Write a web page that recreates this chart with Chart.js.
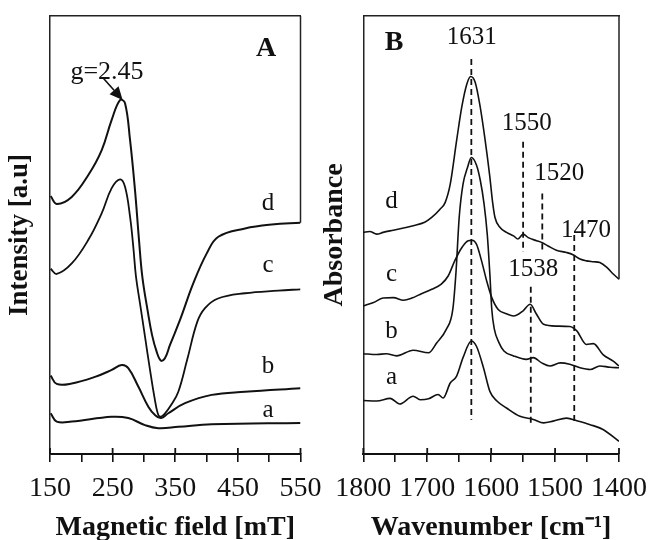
<!DOCTYPE html>
<html><head><meta charset="utf-8">
<script src="https://cdn.jsdelivr.net/npm/chart.js@4.4.1/dist/chart.umd.min.js"></script>
<style>
html,body{margin:0;padding:0;background:#fff;overflow:hidden;}
#wrapA{position:absolute;left:0;top:0;width:330px;height:540px;}
#wrapB{position:absolute;left:315px;top:0;width:336px;height:540px;}
</style></head><body>
<div id="wrapA"><canvas id="chartA"></canvas></div>
<div id="wrapB"><canvas id="chartB"></canvas></div>
<script>
// ---------- Panel A : EPR spectra (Magnetic field [mT] vs Intensity [a.u]) ----------
const fieldD = [151,160.7,184.7,211.2,232.6,248.5,261.8,269.8,277.8,285.7,292.1,297.4,305.7,312.9,320.4,327.3,333.7,341.6,357.6,378.9,400.3,418.8,461.4,504.1,550];
const intD   = [58.9,57.1,58.7,63.7,69.4,76.3,80.8,80.1,71.7,60.3,48.9,40.5,32.9,27.2,23.3,21.3,21.9,24.9,30.6,39.0,45.8,49.6,51.5,52.4,52.8];
const fieldC = [151,160.7,184.7,211.2,232.6,248.5,261.8,269.8,277.8,283.0,287.3,293.7,301.7,309.7,316.6,322.0,325.7,333.7,344.4,354.9,369,385,397.5,418.3,461.4,514.6,550];
const intC   = [42.3,41.1,43.5,48.9,55.0,60.7,62.7,61.0,54.2,47.3,40.5,34.4,26.8,19.2,13.1,9.3,8.5,9.3,11.4,14.2,21.5,30.1,33.3,35.5,36.7,37.3,37.6];
const fieldB = [151,160.7,184.7,221.9,248.5,264.5,275.0,291.0,307.0,317.7,327.3,338.9,365.6,408.2,461.4,550];
const intB   = [17.9,16.0,16.1,17.6,19.2,20.3,19.6,15.4,10.8,8.9,8.2,9.3,11.6,13.5,14.2,15.0];
const fieldA = [151,160.7,184.7,248.5,275.0,301.7,322.9,354.9,408.2,550];
const intA   = [9.3,7.4,7.4,8.5,8.2,6.6,5.9,6.2,6.8,7.1];
const fieldTicksMajor = [150,250,350,450,550];
const seriesNames = ['a','b','c','d'];
const nameFieldA = [498,498,498,498];
const nameIntA   = [10.0,19.9,43.0,57.3];
const gLabel = 'g=2.45';
const gLabelPos = [241,87.2];
const gArrowFrom = [235.2,85.8];
const gArrowTo = [266,80.8];

// ---------- Panel B : IR spectra (Wavenumber [cm-1] vs Absorbance) ----------
const wnD  = [1800,1790,1779,1769,1753,1737,1722,1704,1693,1680,1672,1664,1654,1646,1638,1632,1625,1618,1610,1602,1598,1594,1586,1576,1565,1558,1550,1542,1529,1521,1511,1498,1482,1472,1461,1451,1440,1430,1419,1409,1400];
const absD = [50.6,50.8,50.2,50.6,51.1,51.6,52.1,52.9,54.0,55.9,57.4,61.6,71.6,79.2,84.5,86.2,84.9,80.0,72.3,63.2,57.8,54.0,51.7,50.6,49.8,49.1,50.2,49.4,48.7,48.3,47.5,46.5,46.0,45.5,44.5,44.1,43.9,43.7,42.6,41.1,39.9];
const wnC  = [1800,1784,1769,1753,1737,1724,1709,1693,1678,1667,1657,1646,1636,1630,1623,1615,1607,1599,1589,1576,1565,1550,1539,1529,1518,1498,1477,1466,1451,1440,1425,1409,1400];
const absC = [33.8,34.6,35.6,35.7,35.1,35.6,36.6,37.6,38.8,40.7,44.1,47.1,48.7,48.8,47.9,44.1,39.5,35.7,33.0,32.0,31.5,32.7,34.2,31.9,29.6,29.2,29.1,28.1,25.0,25.2,22.7,21.2,20.1];
const wnB  = [1800,1779,1764,1748,1722,1698,1685,1670,1660,1655,1650,1644,1637,1631,1623,1617,1611,1606,1602,1599,1595,1588,1580,1565,1545,1534,1521,1508,1492,1477,1461,1445,1430,1414,1400];
const absB = [22.9,22.7,22.9,22.4,23.7,23.1,25.4,28.5,33.0,41.5,54.0,61.6,65.4,67.7,66.0,62.5,57.0,50.0,41.0,33.0,28.5,25.5,23.5,22.4,21.6,22.0,20.8,20.1,20.8,20.5,19.7,19.3,20.1,19.8,19.7];
const wnA  = [1800,1779,1758,1743,1722,1711,1698,1683,1675,1664,1654,1644,1631,1623,1612,1602,1591,1576,1555,1534,1518,1503,1482,1466,1445,1425,1400];
const absA = [12.2,12.1,12.7,11.4,13.2,12.4,12.6,13.6,12.8,16.2,17.8,22.0,25.8,24.6,19.7,14.3,12.1,10.5,8.6,7.9,7.1,7.5,8.2,7.6,6.7,5.6,2.9];
const wnTicksMajor = [1800,1700,1600,1500,1400];
const nameWn  = [1756,1756,1756,1756];
const nameAbs = [17.4,27.9,40.9,57.6];
const markerWn     = [1631,1550,1520,1538,1470];
const markerTop    = [90.2,71.3,59.5,38.2,50.0];
const markerBottom = [7.8,46.1,46.1,6.6,6.6];
const markerText   = ['1631','1550','1520','1538','1470'];
const markerTextWn = [1630.4,1544.3,1493.5,1534,1451.8];
const markerTextAbs= [95.1,75.5,64.0,42.2,51.1];

// ---------- helpers ----------
const FONT = 'Liberation Serif';
const INK = '#111';
const pts = (xs, ys) => xs.map((x, i) => ({x, y: ys[i]}));

function curve(xs, ys, w, smooth) {
  const d = { data: pts(xs, ys), borderColor: INK, borderWidth: w, pointRadius: 0, fill: false };
  if (smooth) { d.tension = 0.4; } else { d.cubicInterpolationMode = 'monotone'; }
  return d;
}

function panelPlugin(cfg) {
  return {
    id: 'panel' + cfg.name,
    afterDatasetsDraw(chart) {
      const {ctx, chartArea: ca, scales} = chart;
      const xs = scales.x, ys = scales.y;
      ctx.save();
      // partial right frame down to the end of the top curve
      const meta = chart.getDatasetMeta(cfg.frameSeries);
      const last = meta.data[meta.data.length - 1];
      ctx.strokeStyle = '#222'; ctx.lineWidth = 1.5;
      ctx.beginPath(); ctx.moveTo(ca.right, ca.top); ctx.lineTo(ca.right, last.y); ctx.stroke();
      // inner part of major ticks
      ctx.strokeStyle = INK; ctx.lineWidth = 1.8;
      cfg.majorTicks.forEach(v => {
        const px = xs.getPixelForValue(v);
        ctx.beginPath(); ctx.moveTo(px, ca.bottom - 6); ctx.lineTo(px, ca.bottom); ctx.stroke();
      });
      // texts
      ctx.fillStyle = INK; ctx.textAlign = 'center'; ctx.textBaseline = 'middle';
      cfg.texts.forEach(t => {
        ctx.font = t.font;
        ctx.fillText(t.text, xs.getPixelForValue(t.x), ys.getPixelForValue(t.y));
      });
      // arrow
      if (cfg.arrow) {
        const x0 = xs.getPixelForValue(cfg.arrow.from[0]), y0 = ys.getPixelForValue(cfg.arrow.from[1]);
        const x1 = xs.getPixelForValue(cfg.arrow.to[0]),   y1 = ys.getPixelForValue(cfg.arrow.to[1]);
        const ang = Math.atan2(y1 - y0, x1 - x0);
        const hl = 13, hw = 6;
        const bx = x1 - hl * Math.cos(ang), by = y1 - hl * Math.sin(ang);
        ctx.strokeStyle = INK; ctx.lineWidth = 1.6;
        ctx.beginPath(); ctx.moveTo(x0, y0); ctx.lineTo(bx, by); ctx.stroke();
        ctx.beginPath();
        ctx.moveTo(x1, y1);
        ctx.lineTo(bx + hw * Math.sin(ang), by - hw * Math.cos(ang));
        ctx.lineTo(bx - hw * Math.sin(ang), by + hw * Math.cos(ang));
        ctx.closePath(); ctx.fill();
      }
      ctx.restore();
    }
  };
}

function xAxis(min, max, reverse, labelFn, title) {
  return {
    type: 'linear', position: 'bottom', min, max, reverse,
    afterFit: s => { s.height = 86; },
    ticks: { stepSize: 50, autoSkip: false, maxRotation: 0, padding: 0, color: INK,
             font: { family: FONT, size: 28, lineHeight: 1.92 }, callback: labelFn },
    grid: { drawOnChartArea: false, drawTicks: true, tickLength: 8, color: INK, lineWidth: 1.6 },
    border: { display: true, color: INK, width: 2 },
    title: { display: true, text: title, color: INK, padding: { top: 0, bottom: 0 },
             font: { family: FONT, size: 28, weight: 'bold', lineHeight: 0.9 } }
  };
}
function topFrame(min, max, reverse) {
  return { type: 'linear', position: 'top', min, max, reverse,
           afterFit: s => { s.height = 0; },
           ticks: { display: false }, grid: { display: false },
           border: { display: true, color: '#222', width: 1.5 } };
}
function yAxis(width, title, size, pad) {
  return {
    type: 'linear', position: 'left', min: 0, max: 100,
    afterFit: s => { s.width = width; },
    ticks: { display: false }, grid: { display: false },
    border: { display: true, color: '#222', width: 1.5 },
    title: { display: true, text: title, color: INK, padding: { top: pad, bottom: 0 },
             font: { family: FONT, size: size, weight: 'bold', lineHeight: 1 } }
  };
}
const baseOpts = { responsive: true, maintainAspectRatio: false, animation: false,
  plugins: { legend: { display: false }, tooltip: { enabled: false } } };

// ---------- Chart A ----------
const textsA = seriesNames.map((n, i) => ({ text: n, x: nameFieldA[i], y: nameIntA[i], font: '25px ' + FONT }));
textsA.push({ text: 'A', x: 495, y: 92.5, font: 'bold 28px ' + FONT });
textsA.push({ text: gLabel, x: gLabelPos[0], y: gLabelPos[1], font: '26px ' + FONT });

new Chart(document.getElementById('chartA'), {
  type: 'line',
  data: { datasets: [curve(fieldA, intA, 2, true), curve(fieldB, intB, 2, true), curve(fieldC, intC, 1.8, true), curve(fieldD, intD, 2, true)] },
  options: Object.assign({}, baseOpts, {
    layout: { padding: { top: 16, right: 29.5, left: 0, bottom: 0 } },
    scales: {
      x: xAxis(150, 550, false, v => ((v - 150) % 100 === 0 ? String(v) : ''), 'Magnetic field [mT]'),
      x2: topFrame(150, 550, false),
      y: yAxis(50, 'Intensity [a.u]', 27, 6.5)
    }
  }),
  plugins: [panelPlugin({ name: 'A', frameSeries: 3, majorTicks: fieldTicksMajor, texts: textsA,
                          arrow: { from: gArrowFrom, to: gArrowTo } })]
});

// ---------- Chart B ----------
const textsB = seriesNames.map((n, i) => ({ text: n, x: nameWn[i], y: nameAbs[i], font: '25px ' + FONT }));
textsB.push({ text: 'B', x: 1752, y: 93.8, font: 'bold 28px ' + FONT });
markerText.forEach((t, i) => textsB.push({ text: t, x: markerTextWn[i], y: markerTextAbs[i], font: '25px ' + FONT }));

const markerSets = markerWn.map((w, i) => ({
  data: [{ x: w, y: markerTop[i] }, { x: w, y: markerBottom[i] }],
  borderColor: INK, borderWidth: 1.8, borderDash: [6, 4], pointRadius: 0, fill: false
}));

new Chart(document.getElementById('chartB'), {
  type: 'line',
  data: { datasets: [curve(wnA, absA, 1.6, false), curve(wnB, absB, 1.6, false), curve(wnC, absC, 1.6, false), curve(wnD, absD, 1.6, false)].concat(markerSets) },
  options: Object.assign({}, baseOpts, {
    layout: { padding: { top: 16, right: 32, left: 0, bottom: 0 } },
    scales: {
      x: xAxis(1400, 1800, true, v => (v % 100 === 0 ? String(v) : ''), 'Wavenumber [cm\u207B\u00B9]'),
      x2: topFrame(1400, 1800, true),
      y: yAxis(48.3, 'Absorbance', 28, 6)
    }
  }),
  plugins: [panelPlugin({ name: 'B', frameSeries: 3, majorTicks: wnTicksMajor, texts: textsB })]
});
</script>
</body></html>
